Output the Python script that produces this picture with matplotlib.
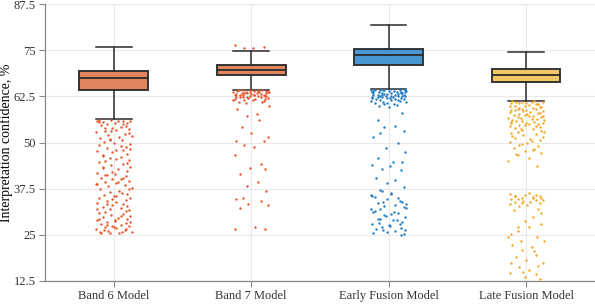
import matplotlib

matplotlib.use("Agg")
import matplotlib.pyplot as plt

plt.rcParams["font.family"] = ["Liberation Serif", "DejaVu Serif"]

MODELS = ["Band 6 Model", "Band 7 Model", "Early Fusion Model", "Late Fusion Model"]

# box statistics: whislo, q1, median, q3, whishi
WHISLO = [56.3, 64.1, 64.5, 61.2]
Q1 = [64.2, 68.2, 71.1, 66.4]
MEDIAN = [67.5, 69.7, 73.6, 68.3]
Q3 = [69.5, 71.0, 75.4, 69.9]
WHISHI = [75.8, 74.9, 81.9, 74.6]

BAND6_OUT = [
    56.1, 55.9, 56.0, 55.8, 55.6, 55.9, 55.4, 55.7, 55.2, 54.9, 54.6, 54.8, 54.3, 53.9,
    53.6, 53.2, 53.5, 52.8, 52.4, 52.0, 51.7, 51.3, 51.5, 50.9, 50.6, 50.2, 49.9, 49.6,
    49.2, 48.8, 48.5, 48.0, 47.6, 47.9, 47.3, 46.9, 46.4, 46.1, 45.7, 45.3, 45.0, 44.6,
    44.2, 43.9, 43.5, 43.0, 42.7, 42.2, 41.8, 41.5, 41.1, 40.8, 40.5, 40.2, 40.0, 39.7,
    39.4, 39.0, 38.7, 38.4, 38.1, 37.7, 37.3, 36.9, 36.6, 36.2, 35.8, 35.5, 35.1, 34.9,
    34.5, 34.2, 33.9, 33.6, 33.3, 33.1, 32.8, 32.5, 32.2, 31.9, 31.6, 31.2, 30.9, 30.6,
    30.3, 30.0, 29.8, 29.5, 29.2, 28.9, 28.7, 28.4, 28.2, 28.0, 27.7, 27.5, 27.3, 27.0,
    26.8, 26.6, 26.3, 26.1, 25.9, 25.7, 25.5, 25.4, 25.8, 26.2, 27.1, 28.6, 29.4, 31.4,
    33.4, 35.6, 38.9, 40.4, 42.0, 44.4, 46.7, 49.0, 50.8, 52.6, 54.0, 55.5, 55.1, 53.0,
    48.3, 43.3, 39.2, 36.0, 32.0, 29.0, 27.6, 26.5, 25.6, 30.1, 34.7, 37.5, 41.3, 45.5,
]
BAND7_OUT = [
    76.3, 75.5, 75.6, 75.8,
    64.3, 64.2, 64.1, 64.0, 64.2, 63.9, 63.8, 64.1, 63.7, 63.6, 63.9, 63.5, 63.4, 63.8,
    63.3, 63.2, 63.6, 63.1, 63.0, 63.4, 62.9, 62.8, 63.2, 62.7, 62.6, 62.9, 62.5, 62.4,
    62.6, 62.3, 62.2, 62.4, 62.1, 62.0, 62.2, 61.9, 61.8, 61.7, 61.6, 61.5, 61.3, 61.1,
    64.0, 63.7, 63.5, 63.0, 62.8, 61.4, 61.0, 60.6,
    59.9, 59.0, 57.7, 57.2, 56.1, 54.1, 52.7, 51.6, 50.4, 50.3, 49.4, 48.7, 46.6, 44.2,
    43.1, 42.7, 41.5, 39.3, 38.2, 37.0, 35.0, 34.6, 34.1, 33.3, 33.2, 32.3, 27.2, 26.7,
    26.5,
]
EARLY_OUT = [
    64.4, 64.3, 64.4, 64.2, 64.1, 64.3, 64.0, 64.2, 63.9, 64.1, 63.8, 63.7, 64.0, 63.6,
    63.5, 63.8, 63.4, 63.3, 63.6, 63.2, 63.1, 63.4, 63.0, 62.9, 63.2, 62.8, 62.7, 62.9,
    62.6, 62.5, 62.7, 62.4, 62.3, 62.5, 62.2, 62.1, 62.3, 62.0, 61.9, 61.8, 62.0, 61.7,
    61.6, 61.5, 61.3, 61.2, 61.0, 60.9, 60.7, 60.5, 60.3, 60.1, 59.9, 59.7, 64.1, 63.9,
    63.5, 63.0, 62.6, 62.1, 61.4, 60.8,
    57.9, 56.1, 54.5, 54.3, 53.2, 52.5, 51.4, 49.9, 48.4, 47.5, 45.7, 44.8, 44.6, 43.9,
    43.6, 42.7, 42.5, 40.3, 39.8, 39.0, 37.9, 37.1, 36.0, 35.8, 34.2, 34.0, 32.2, 31.5,
    31.3, 30.4, 29.0, 28.3, 27.7, 26.3, 25.4, 25.0,
    36.8, 36.4, 35.5, 35.1, 34.7, 33.8, 33.5, 33.1, 32.8, 32.5, 31.9, 31.1, 30.8, 30.1,
    29.7, 29.4, 28.9, 28.6, 28.0, 27.4, 27.1, 26.8, 26.5, 26.0, 25.7, 25.3, 29.2, 30.6,
    32.0, 27.9, 26.2, 33.3, 35.3,
]
LATE_OUT = [
    61.2, 61.1, 61.0, 61.2, 60.9, 60.8, 61.0, 60.6, 60.4, 60.7, 60.2, 60.0, 60.3, 59.8,
    59.6, 59.9, 59.4, 59.2, 59.5, 59.0, 58.8, 59.1, 58.6, 58.4, 58.7, 58.2, 58.0, 58.3,
    57.8, 57.6, 57.9, 57.4, 57.2, 57.5, 57.0, 56.8, 57.1, 56.6, 56.4, 56.7, 56.2, 56.0,
    56.3, 55.8, 55.6, 55.9, 55.4, 55.2, 55.5, 55.0, 54.8, 55.1, 54.6, 54.4, 54.7, 54.2,
    54.0, 53.7, 53.4, 53.1, 52.8, 52.5, 52.2, 51.9, 51.6, 51.3, 51.0, 50.6, 50.2, 49.8,
    49.4, 49.0, 48.6, 48.1, 47.6, 47.1, 46.5, 45.9, 45.1, 43.7, 53.6, 52.9, 51.8, 50.4,
    49.6, 48.3, 47.0, 58.9, 57.3, 55.3, 60.5, 59.3,
    36.2, 36.0, 35.8, 35.9, 35.6, 35.5, 35.3, 35.1, 35.0, 34.8, 34.6, 34.4, 34.2, 34.3,
    34.0, 33.8, 33.6, 33.3, 33.1, 32.8, 31.9, 31.7, 29.9, 28.8, 27.9, 27.2, 27.0, 24.5,
    24.3, 23.4, 23.2, 22.2, 21.8, 20.9, 20.6, 18.9, 18.2, 17.5, 17.3, 16.6, 16.2, 15.5,
    14.7, 14.5, 13.7, 13.1, 35.4, 34.9, 33.5, 30.8, 26.1, 25.3, 19.6, 15.0,
]
OUTLIERS = [BAND6_OUT, BAND7_OUT, EARLY_OUT, LATE_OUT]

BOX_COLORS = ["#E07F55", "#E07F55", "#3F92CF", "#F0C45A"]
DOT_COLORS = ["#E8552A", "#E8552A", "#1F7DC6", "#F5A623"]

# fixed horizontal spread for the strip of outliers
JITTER = [
    -0.11, 0.07, -0.02, 0.12, -0.08, 0.03, 0.10, -0.12, 0.01, -0.05, 0.09, -0.09, 0.05,
    -0.01, 0.11, -0.06, 0.02, -0.13, 0.08, -0.04, 0.13, -0.10, 0.04, -0.03, 0.06, -0.07,
    0.00, 0.12, -0.11, 0.09, -0.05, 0.02, -0.12, 0.07, -0.01, 0.10, -0.08, 0.05, -0.03,
    0.11, -0.06,
]

fig = plt.figure(figsize=(5.95, 3.04), dpi=100)
ax = fig.add_axes([0.0756, 0.0757, 0.924, 0.911])

stats = []
for i, name in enumerate(MODELS):
    stats.append({
        "label": name, "whislo": WHISLO[i], "q1": Q1[i], "med": MEDIAN[i],
        "q3": Q3[i], "whishi": WHISHI[i], "fliers": [],
    })

edge = "#2b2b2b"
bp = ax.bxp(
    stats, positions=range(len(MODELS)), widths=0.5, patch_artist=True, showfliers=False,
    boxprops=dict(edgecolor=edge, linewidth=1.4),
    medianprops=dict(color=edge, linewidth=1.3),
    whiskerprops=dict(color=edge, linewidth=1.1),
    capprops=dict(color=edge, linewidth=1.1),
    capwidths=0.26,
)
for patch, c in zip(bp["boxes"], BOX_COLORS):
    patch.set_facecolor(c)
    patch.set_alpha(0.95)

for i, vals in enumerate(OUTLIERS):
    xs = [i + JITTER[(k + 7 * i) % len(JITTER)] for k in range(len(vals))]
    ax.scatter(xs, vals, s=3.0, color=DOT_COLORS[i], linewidths=0, zorder=3)

ax.set_xlim(-0.5, 3.5)
ax.set_ylim(12.5, 87.5)
ax.set_yticks([12.5, 25, 37.5, 50, 62.5, 75, 87.5], ["12.5", "25", "37.5", "50", "62.5", "75", "87.5"])
ax.set_xticks(range(len(MODELS)), MODELS)
ax.set_ylabel("Interpretation confidence, %", fontsize=10)
ax.yaxis.set_label_coords(-0.058, 0.5)
ax.tick_params(axis="both", labelsize=9, color="#888888", length=4, width=0.8,
               labelcolor="#333333", pad=2.5)

ax.grid(color="#e9e9e9", linewidth=0.8)
ax.set_axisbelow(True)
for side in ["top", "right"]:
    ax.spines[side].set_visible(False)
for side in ["left", "bottom"]:
    ax.spines[side].set_color("#888888")
    ax.spines[side].set_linewidth(0.9)

fig.savefig("out.png", dpi=100)
